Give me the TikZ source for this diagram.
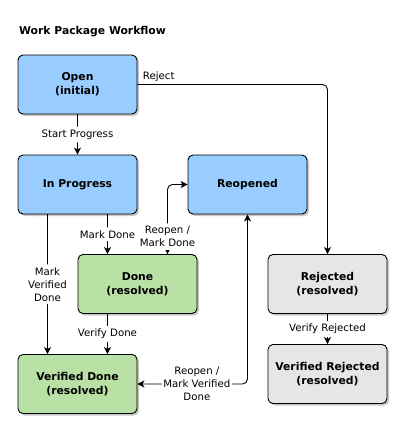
\documentclass[tikz,border=0pt]{standalone}
\usepackage{fontspec}
\setmainfont{DejaVu Sans}
\usetikzlibrary{arrows.meta,shadows}
\definecolor{stblue}{HTML}{99CCFF}
\definecolor{stgreen}{HTML}{B9E0A5}
\definecolor{stgray}{HTML}{E6E6E6}
\definecolor{stshadow}{HTML}{C8C8C8}
\tikzset{
  state/.style={draw=black, line width=0.9pt, rounded corners=5pt,
    minimum width=119pt, minimum height=59pt, inner sep=0pt, align=center,
    font=\bfseries\fontsize{10.8}{14}\selectfont,
    drop shadow={shadow xshift=2pt, shadow yshift=-2pt, opacity=1, fill=stshadow}},
  bluestate/.style={state, fill=stblue},
  greenstate/.style={state, fill=stgreen},
  graystate/.style={state, fill=stgray},
  conn/.style={draw=black, line width=0.9pt, rounded corners=5pt,
    -{Stealth[length=7pt,width=7pt,inset=2pt]}},
  biconn/.style={draw=black, line width=0.9pt, rounded corners=5pt,
    {Stealth[length=7pt,width=7pt,inset=2pt]}-{Stealth[length=7pt,width=7pt,inset=2pt]}},
  lbl/.style={fill=white, inner xsep=1.5pt, inner ysep=3pt, align=center,
    font=\fontsize{10.2}{13}\selectfont}
}
\begin{document}
\begin{tikzpicture}[x=1pt,y=-1pt]
\useasboundingbox[fill=white] (0,0) rectangle (406,434);
\node[anchor=base west, inner sep=0pt, font=\bfseries\fontsize{10.8}{13}\selectfont] (title) at (19,34) {Work Package Workflow};

\node[bluestate] (open) at (77.5,84.5) {Open\\(initial)};
\node[bluestate] (inprog) at (77.5,184.5) {In Progress};
\node[bluestate] (reop) at (247.5,184.5) {Reopened};
\node[greenstate] (done) at (137.5,284) {Done\\(resolved)};
\node[graystate] (rej) at (327.5,284) {Rejected\\(resolved)};
\node[greenstate] (vdone) at (77.5,384) {Verified Done\\(resolved)};
\node[graystate] (vrej) at (327.5,374) {Verified Rejected\\(resolved)};

\draw[conn] (open.south) -- node[lbl] {Start Progress} (inprog.north);
\draw[conn] (open.east) -| node[pos=0, anchor=south west, inner sep=2pt, xshift=3pt, font=\fontsize{10.2}{13}\selectfont] {Reject} (rej.north);
\draw[conn] ([xshift=30pt]inprog.south) -- node[lbl] {Mark Done} ([xshift=-30pt]done.north);
\draw[conn] ([xshift=-30pt]inprog.south) -- node[lbl] {Mark\\Verified\\Done} ([xshift=-30pt]vdone.north);
\draw[conn] ([xshift=-30pt]done.south) -- node[lbl] {Verify Done} ([xshift=30pt]vdone.north);
\draw[conn] (rej.south) -- node[lbl] {Verify Rejected} (vrej.north);
\draw[biconn] ([xshift=30pt]done.north) |- node[lbl, pos=0.125] {Reopen /\\Mark Done} (reop.west);
\draw[biconn] (vdone.east) -| node[lbl, pos=0.27] {Reopen /\\Mark Verified\\Done} (reop.south);
\end{tikzpicture}
\end{document}
